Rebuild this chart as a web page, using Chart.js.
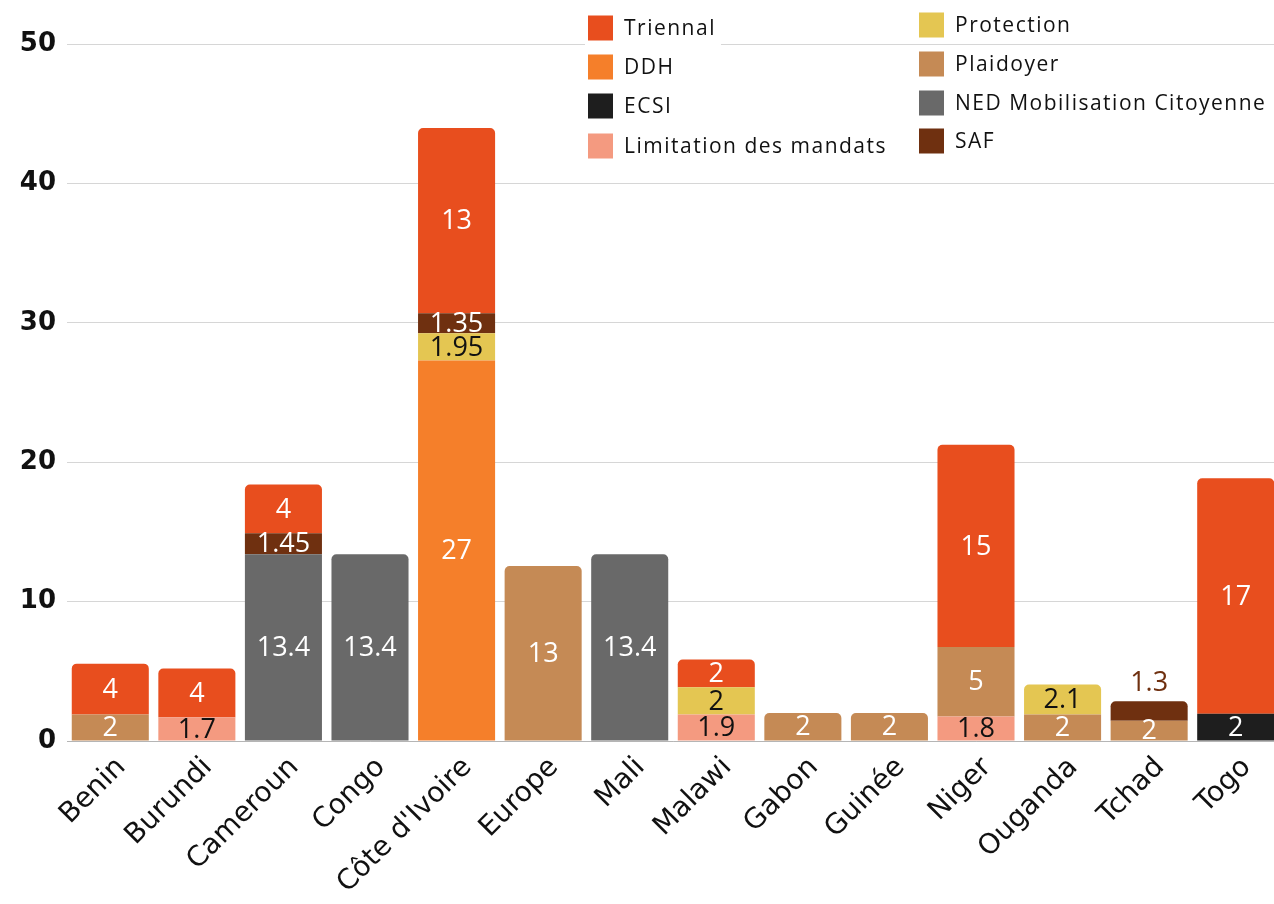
<!DOCTYPE html>
<html>
<head>
<meta charset="utf-8">
<script src="https://cdn.jsdelivr.net/npm/chart.js@4"></script>
<style>
  html, body { margin: 0; padding: 0; background: #fff; overflow: hidden; }
  #wrap { position: relative; width: 1279px; height: 904px; }
</style>
</head>
<body>
<div id="wrap"><canvas id="budgetChart"></canvas></div>
<script>
// categories and stacked series (bar heights)
const categories = ['Benin', 'Burundi', 'Cameroun', 'Congo', "Côte d'Ivoire", 'Europe', 'Mali',
                    'Malawi', 'Gabon', 'Guinée', 'Niger', 'Ouganda', 'Tchad', 'Togo'];

const limitationValues = [null, 1.7, null, null, null, null, null, 1.9, null, null, 1.75, null, null, null];
const ecsiValues       = [null, null, null, null, null, null, null, null, null, null, null, null, null, 1.95];
const ddhValues        = [null, null, null, null, 27.3, null, null, null, null, null, null, null, null, null];
const plaidoyerValues  = [1.9, null, null, null, null, 12.55, null, null, 2, 2, 5, 1.9, 1.45, null];
const nedValues        = [null, null, 13.4, 13.4, null, null, 13.4, null, null, null, null, null, null, null];
const protectionValues = [null, null, null, null, 1.95, null, null, 1.95, null, null, null, 2.15, null, null];
const safValues        = [null, null, 1.5, null, 1.43, null, null, null, null, null, null, null, 1.4, null];
const triennalValues   = [3.65, 3.5, 3.5, null, 13.3, null, null, 2, null, null, 14.5, null, null, 16.9];

// value labels as printed on the bars
const limitationLabels = [null, '1.7', null, null, null, null, null, '1.9', null, null, '1.8', null, null, null];
const ecsiLabels       = [null, null, null, null, null, null, null, null, null, null, null, null, null, '2'];
const ddhLabels        = [null, null, null, null, '27', null, null, null, null, null, null, null, null, null];
const plaidoyerLabels  = ['2', null, null, null, null, '13', null, null, '2', '2', '5', '2', '2', null];
const nedLabels        = [null, null, '13.4', '13.4', null, null, '13.4', null, null, null, null, null, null, null];
const protectionLabels = [null, null, null, null, '1.95', null, null, '2', null, null, null, '2.1', null, null];
const safLabels        = [null, null, '1.45', null, '1.35', null, null, null, null, null, null, null, '1.3', null];
const triennalLabels   = ['4', '4', '4', null, '13', null, null, '2', null, null, '15', null, null, '17'];

const FONT = "'Open Sans', 'Noto Sans', sans-serif";

// stacking order bottom -> top
const datasets = [
  { label: 'Limitation des mandats', data: limitationValues, texts: limitationLabels, backgroundColor: '#F49A80', textColor: '#111' },
  { label: 'ECSI', data: ecsiValues, texts: ecsiLabels, backgroundColor: '#1E1E1E', textColor: '#fff' },
  { label: 'DDH', data: ddhValues, texts: ddhLabels, backgroundColor: '#F57F2A', textColor: '#fff' },
  { label: 'Plaidoyer', data: plaidoyerValues, texts: plaidoyerLabels, backgroundColor: '#C58A55', textColor: '#fff' },
  { label: 'NED Mobilisation Citoyenne', data: nedValues, texts: nedLabels, backgroundColor: '#696969', textColor: '#fff' },
  { label: 'Protection', data: protectionValues, texts: protectionLabels, backgroundColor: '#E4C652', textColor: '#111' },
  { label: 'SAF', data: safValues, texts: safLabels, backgroundColor: '#6F3010', textColor: '#fff' },
  { label: 'Triennal', data: triennalValues, texts: triennalLabels, backgroundColor: '#E84E1E', textColor: '#fff' }
];

// legend is laid out in two columns like the original
const legendColumns = [
  ['Triennal', 'DDH', 'ECSI', 'Limitation des mandats'],
  ['Protection', 'Plaidoyer', 'NED Mobilisation Citoyenne', 'SAF']
];

const barLabels = {
  id: 'barLabels',
  afterDatasetsDraw(chart) {
    const ctx = chart.ctx;
    ctx.save();
    ctx.font = '27px ' + FONT;
    ctx.textAlign = 'center';
    ctx.textBaseline = 'middle';
    chart.data.datasets.forEach((ds, di) => {
      const meta = chart.getDatasetMeta(di);
      meta.data.forEach((bar, i) => {
        const txt = ds.texts[i];
        if (!txt) return;
        const h = Math.abs(bar.base - bar.y);
        // is this the top segment of its stack?
        let isTop = true;
        for (let k = di + 1; k < chart.data.datasets.length; k++) {
          if (chart.data.datasets[k].data[i] != null) isTop = false;
        }
        if (isTop && h < 22) {
          ctx.fillStyle = ds.backgroundColor;
          ctx.fillText(txt, bar.x, bar.y - 18);
        } else {
          ctx.fillStyle = ds.textColor;
          ctx.fillText(txt, bar.x, (bar.y + bar.base) / 2 + 1);
        }
      });
    });
    ctx.restore();
  }
};

const columnLegend = {
  id: 'columnLegend',
  afterDraw(chart) {
    const ctx = chart.ctx;
    const colX = [588, 919];
    const rowY = [[28, 67, 106, 146], [25, 64, 103, 141]];
    ctx.save();
    ctx.font = '500 21px ' + FONT;
    ctx.letterSpacing = '1.5px';
    ctx.textBaseline = 'middle';
    legendColumns.forEach((col, c) => {
      col.forEach((name, r) => {
        const ds = chart.data.datasets.find(d => d.label === name);
        const x = colX[c], y = rowY[c][r];
        const w = ctx.measureText(name).width;
        ctx.fillStyle = '#fff';
        ctx.fillRect(x - 3, y - 19, 36 + w + 8, 38);
        ctx.fillStyle = ds.backgroundColor;
        ctx.fillRect(x, y - 12.5, 25, 25);
        ctx.fillStyle = '#111';
        ctx.fillText(name, x + 36, y + 1);
      });
    });
    ctx.restore();
  }
};

new Chart(document.getElementById('budgetChart').getContext('2d'), {
  type: 'bar',
  data: { labels: categories, datasets: datasets },
  options: {
    responsive: true,
    maintainAspectRatio: false,
    animation: false,
    layout: { padding: { top: 44, right: 0, left: 0, bottom: 0 } },
    datasets: {
      bar: { barPercentage: 0.89, categoryPercentage: 1, borderRadius: 5, borderWidth: 0 }
    },
    plugins: {
      legend: { display: false },
      tooltip: { enabled: false }
    },
    scales: {
      x: {
        stacked: true,
        grid: { display: false },
        border: { color: '#b5b5b5' },
        ticks: {
          color: '#111',
          font: { family: "'DejaVu Sans', sans-serif", size: 28 },
          minRotation: 45,
          maxRotation: 45,
          labelOffset: 11,
          padding: 2
        },
        afterFit(scale) { scale.height = 163; }
      },
      y: {
        stacked: true,
        min: 0,
        max: 50,
        grid: { color: '#d6d6d6', drawTicks: false },
        border: { display: false },
        ticks: {
          stepSize: 10,
          color: '#111',
          padding: 11,
          font: { family: "'DejaVu Sans', sans-serif", size: 26, weight: 'bold' }
        },
        afterFit(scale) { scale.width = 67; }
      }
    }
  },
  plugins: [barLabels, columnLegend]
});
</script>
</body>
</html>
